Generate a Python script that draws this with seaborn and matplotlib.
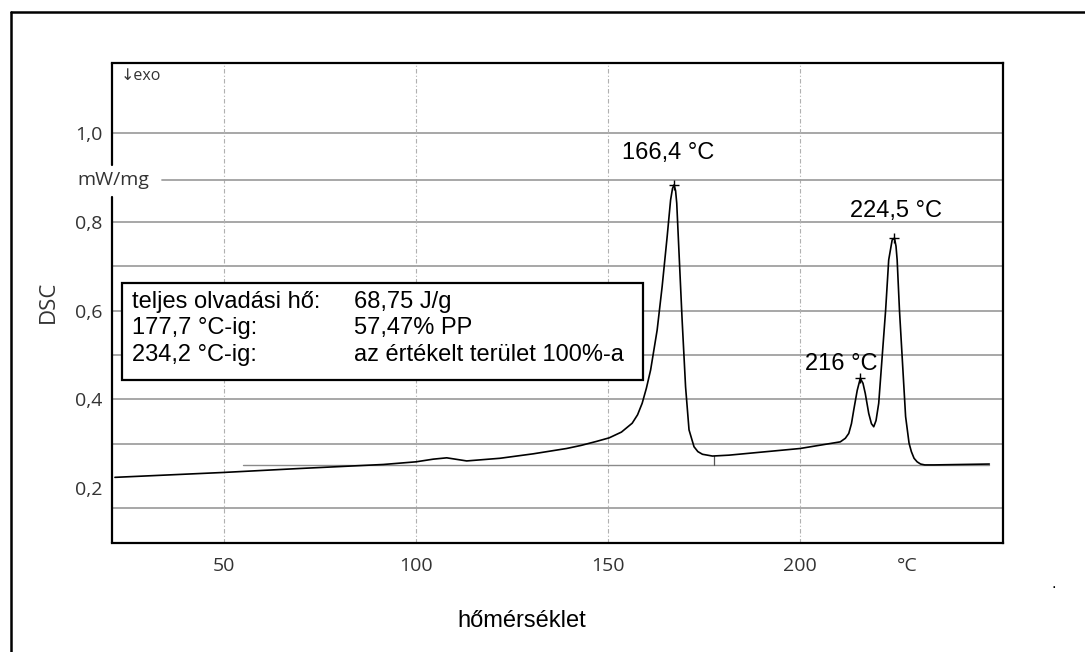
import matplotlib
matplotlib.use("Agg")
import matplotlib.pyplot as plt
from matplotlib.lines import Line2D
from matplotlib.patches import Rectangle
import seaborn as sns
import pandas as pd

# ---------------- data ----------------
temperature = [21.6, 49.8, 69.8, 91.5, 100.0, 104.5, 108.0, 113.2, 121.9, 130.5,
               139.2, 143.0, 147.0, 150.3, 153.5, 156.3, 157.7, 158.9, 160.0, 161.1,
               162.8, 164.1, 165.4, 166.3, 166.8, 167.2, 167.6, 167.9, 168.5, 169.3,
               170.2, 171.1, 172.4, 173.4, 174.6, 177.2, 181.5, 200.0, 210.5, 211.8,
               212.7, 213.4, 214.0, 214.9, 215.7, 216.4, 217.0, 217.9, 218.6, 219.2,
               219.8, 220.5, 221.4, 222.3, 223.1, 224.0, 224.6, 225.0, 225.3, 225.9,
               226.6, 227.5, 228.4, 229.0, 229.7, 230.5, 231.4, 232.5, 234.9, 249.3]
dsc = [0.224, 0.235, 0.244, 0.253, 0.259, 0.265, 0.268, 0.261, 0.267, 0.277,
       0.289, 0.296, 0.305, 0.313, 0.326, 0.346, 0.365, 0.391, 0.425, 0.466,
       0.556, 0.654, 0.766, 0.849, 0.875, 0.883, 0.870, 0.842, 0.729, 0.579,
       0.428, 0.331, 0.293, 0.282, 0.276, 0.272, 0.274, 0.289, 0.304, 0.312,
       0.323, 0.345, 0.376, 0.420, 0.447, 0.436, 0.413, 0.368, 0.345, 0.338,
       0.352, 0.391, 0.496, 0.601, 0.714, 0.759, 0.763, 0.745, 0.714, 0.601,
       0.496, 0.361, 0.301, 0.282, 0.267, 0.259, 0.254, 0.252, 0.252, 0.254]

peak_T = [167.2, 215.7, 224.6]
peak_v = [0.883, 0.447, 0.763]
peak_labels = ["166,4 °C", "216 °C", "224,5 °C"]
peak_label_T = [153.6, 201.3, 213.0]
peak_label_v = [0.954, 0.479, 0.824]

baseline_T = [55.0, 249.3]
baseline_v = [0.252, 0.252]
split_T = [177.7, 177.7]
split_v = [0.252, 0.272]

x_ticks = [50, 100, 150, 200, 227.9]
x_ticklabels = ["50", "100", "150", "200", "°C"]
y_ticks = [1.0, 0.8, 0.6, 0.4, 0.2]
y_ticklabels = ["1,0", "0,8", "0,6", "0,4", "0,2"]
h_grid = [1.0, 0.8, 0.7, 0.6, 0.5, 0.4, 0.3, 0.155]
v_grid = [50, 100, 150, 200]
unit_level = 0.894

box_left = ["teljes olvadási hő:", "177,7 °C-ig:", "234,2 °C-ig:"]
box_right = ["68,75 J/g", "57,47% PP", "az értékelt terület 100%-a"]

# ---------------- style ----------------
sns.set_style("white")
plt.rcParams['font.family'] = ['Liberation Sans', 'DejaVu Sans']

W, H = 1085, 652
fig = plt.figure(figsize=(W / 100, H / 100), dpi=100)
L, R, T, B = 112, 1003, 63, 543
ax = fig.add_axes([L / W, 1 - B / H, (R - L) / W, (B - T) / H])

xmin = 50 - (224 - L) / 3.84
xmax = 50 + (R - 224) / 3.84
ymin = 1 - (B - 133) / 443.75
ymax = 1 + (133 - T) / 443.75
ax.set_xlim(xmin, xmax)
ax.set_ylim(ymin, ymax)

df = pd.DataFrame({"T": temperature, "DSC": dsc})
sns.lineplot(data=df, x="T", y="DSC", ax=ax, color="black", lw=1.2,
             sort=False, zorder=4)
ax.plot(peak_T, peak_v, ls="none", marker="+", ms=7, mew=1.0, color="black", zorder=5)

ax.plot(baseline_T, baseline_v, color="#8a8a8a", lw=1.0, zorder=2)
ax.plot(split_T, split_v, color="#555555", lw=0.9, zorder=2)

grid_c = "#a0a0a0"
for v in h_grid:
    ax.axhline(v, color=grid_c, lw=1.3, zorder=1)
for x in v_grid:
    ax.axvline(x, color="#b0b0b0", lw=0.8, ls=(0, (4, 2, 1, 2)), zorder=1)

yt = ax.get_yaxis_transform()
ax.plot([0.056, 1.0], [unit_level, unit_level], color=grid_c, lw=1.3,
        transform=yt, zorder=1)

# spines
for s in ["top", "right", "bottom"]:
    ax.spines[s].set_color("black")
    ax.spines[s].set_linewidth(1.6)
ax.spines["left"].set_visible(False)
ax.plot([0, 0], [ymin, 0.856], color="black", lw=1.6, transform=yt, clip_on=False, zorder=6)
ax.plot([0, 0], [0.928, ymax], color="black", lw=1.6, transform=yt, clip_on=False, zorder=6)

tick_font = dict(family=["Open Sans", "DejaVu Sans"], size=14, color="#333333")
ax.set_xticks(x_ticks)
ax.set_xticklabels(x_ticklabels, **tick_font)
ax.set_yticks(y_ticks)
ax.set_yticklabels(y_ticklabels, **tick_font)
ax.tick_params(axis="x", length=0, pad=10)
ax.tick_params(axis="y", length=0, pad=7)
ax.set_xlabel("")
ax.set_ylabel("")

ax.text(-0.039, unit_level, "mW/mg", transform=yt, ha="left", va="center", **tick_font)
ax.text(0.010, 0.973, "↓exo", transform=ax.transAxes, ha="left", va="center",
        family=["Open Sans", "DejaVu Sans"], size=11.5, color="#333333")

# peak labels
for t, v, s in zip(peak_label_T, peak_label_v, peak_labels):
    ax.text(t, v, s, ha="left", va="center", fontsize=17, color="black", zorder=6)

# info box
bx0 = (122 - L) / (R - L)
bx1 = (643 - L) / (R - L)
by0 = (B - 380) / (B - T)
by1 = (B - 283) / (B - T)
ax.add_patch(Rectangle((bx0, by0), bx1 - bx0, by1 - by0, transform=ax.transAxes,
                       facecolor="white", edgecolor="black", lw=1.6, zorder=7))
rows_y = [(B - 301.7) / (B - T), (B - 328) / (B - T), (B - 355) / (B - T)]
for yy, a, b in zip(rows_y, box_left, box_right):
    ax.text((132.5 - L) / (R - L), yy, a, transform=ax.transAxes, ha="left",
            va="center", fontsize=17, color="black", zorder=8)
    ax.text((354 - L) / (R - L), yy, b, transform=ax.transAxes, ha="left",
            va="center", fontsize=17, color="black", zorder=8)

# axis titles
fig.text(522 / W, 1 - 621 / H, "hőmérséklet", ha="center", va="center",
         fontsize=17, color="black")
fig.text(48 / W, 1 - 302 / H, "DSC", ha="center", va="center", rotation=90,
         family=["Open Sans", "DejaVu Sans"], size=16, color="#333333")
fig.text(1054 / W, 1 - 584 / H, ".", ha="center", va="center", fontsize=12, color="black")

# outer frame (left and top)
fig.add_artist(Line2D([10.5 / W, 10.5 / W], [0, 1 - 12 / H], transform=fig.transFigure,
                      color="black", lw=1.8))
fig.add_artist(Line2D([10.5 / W, 1], [1 - 12 / H, 1 - 12 / H], transform=fig.transFigure,
                      color="black", lw=1.8))

fig.savefig("out.png", dpi=100, facecolor="white")
